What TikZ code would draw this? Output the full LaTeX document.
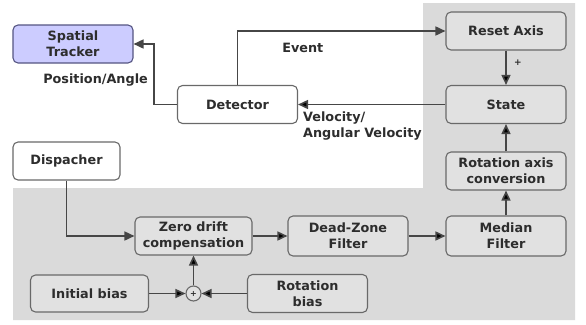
\documentclass[tikz,border=0pt]{standalone}
\usepackage{fontspec}
\setmainfont{DejaVu Sans}
\usetikzlibrary{positioning, arrows.meta}

\definecolor{bggray}{RGB}{218,218,218}
\definecolor{boxgray}{RGB}{225,225,225}
\definecolor{boxline}{RGB}{105,105,105}
\definecolor{trackerblue}{RGB}{204,204,255}
\definecolor{trackerline}{RGB}{85,85,130}
\definecolor{linegray}{RGB}{70,70,70}
\definecolor{txtgray}{RGB}{45,45,45}

\begin{document}
\begin{tikzpicture}[x=1pt, y=1pt, on grid,
    >={Triangle[length=10pt, width=9pt]},
    font=\fontsize{12.8}{16}\selectfont\bfseries, text=txtgray,
    block/.style={draw=boxline, line width=1.1pt, rounded corners=5pt, fill=boxgray,
        minimum width=120pt, minimum height=38pt, align=center, inner sep=1pt},
    sumnode/.style={draw=boxline, line width=1.1pt, circle, fill=boxgray,
        minimum size=15pt, inner sep=0pt, font=\fontsize{8}{8}\selectfont\bfseries},
    conn/.style={draw=linegray, line width=1.6pt}]
    \useasboundingbox (0,0) rectangle (586,-324);
    % grey area behind the processing chain
    \fill[bggray] (13,-188) -- (423,-188) -- (423,-3) -- (575,-3) -- (575,-320) -- (13,-320) -- cycle;

    \node[block, fill=trackerblue, draw=trackerline] (tracker) at (73,-44) {Spatial\\Tracker};
    \node[block, fill=white] (detector) at (237.5,-104.5) {Detector};
    \node[block] (state) [right=268.5pt of detector] {State};
    \node[block] (reset) [above=73.5pt of state] {Reset Axis};
    \node[block] (rotconv) [below=66.5pt of state] {Rotation axis\\conversion};
    \node[block, minimum height=40pt] (median) [below=65pt of rotconv] {Median\\Filter};
    \node[block, minimum height=40pt] (deadzone) [left=158pt of median] {Dead-Zone\\Filter};
    \node[block, minimum width=117pt] (zero) [left=154.5pt of deadzone] {Zero drift\\compensation};
    \node[sumnode] (sum) [below=57.5pt of zero] {+};
    \node[block, minimum width=118pt, minimum height=37pt] (initbias) [left=104pt of sum] {Initial bias};
    \node[block] (rotbias) [right=114pt of sum] {Rotation\\bias};
    \node[block, fill=white, minimum width=107pt] (dispacher) at (66.5,-161) {Dispacher};

    \path[->, conn]
    (reset) edge node[pos=0.35, right=4pt, font=\fontsize{9}{9}\selectfont\bfseries] {+} (state)
    (state) edge node[pos=1, below right=3pt and 1pt, align=left] {Velocity/\\Angular Velocity} (detector)
    (rotconv) edge (state)
    (median) edge (rotconv)
    (deadzone) edge (median)
    (zero) edge (deadzone)
    (initbias) edge (sum)
    (rotbias) edge (sum)
    (sum) edge (zero);

    \draw[->, conn] (detector.west) -- ++(-23,0) |- (tracker.east)
        node[pos=0.2, left=2pt] {Position/Angle};
    \draw[->, conn] (detector.north) |- (reset.west)
        node[pos=0.657, below=8pt] {Event};
    \draw[->, conn] (dispacher.south) |- (zero.west);
\end{tikzpicture}
\end{document}
